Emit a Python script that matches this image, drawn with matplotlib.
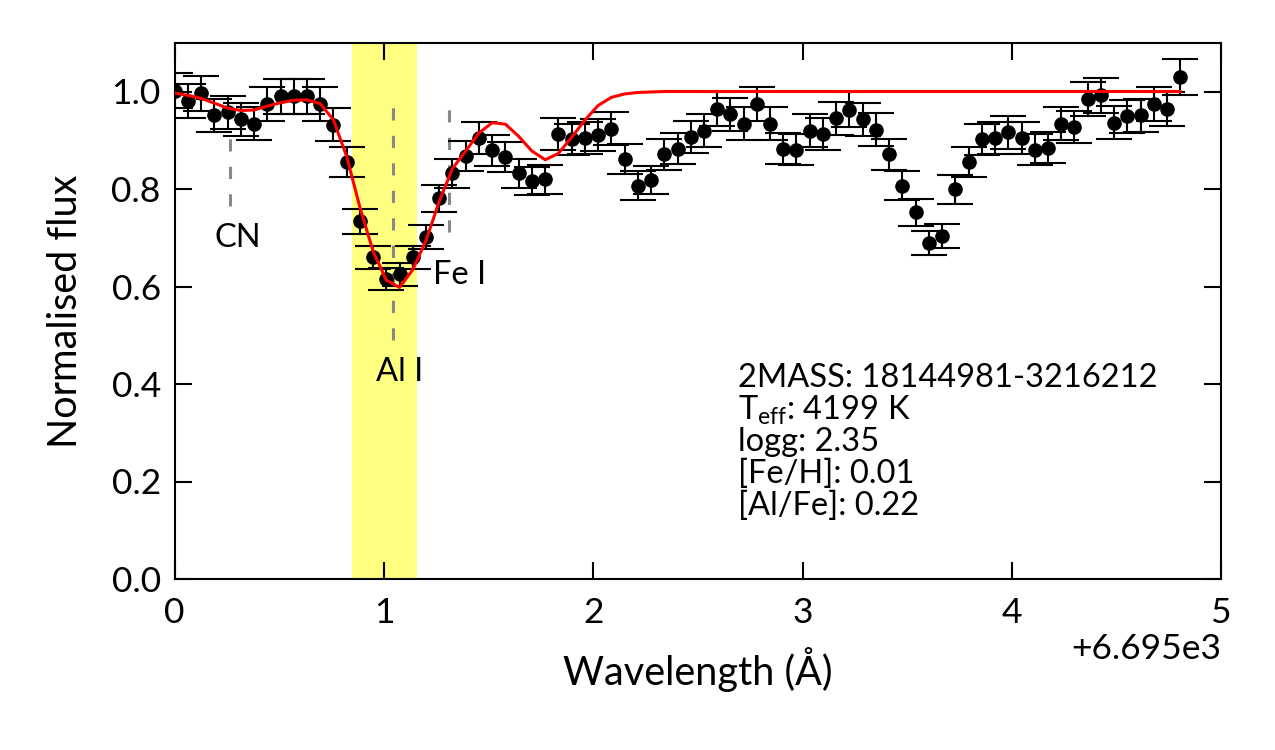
import matplotlib
matplotlib.use('Agg')
import matplotlib.pyplot as plt

plt.rcParams['font.family'] = ['Lato', 'DejaVu Sans']
plt.rcParams['mathtext.fontset'] = 'custom'
plt.rcParams['mathtext.rm'] = 'Lato'
plt.rcParams['mathtext.it'] = 'Lato'

# wavelength offset from 6695 A
wl = [0.000, 0.063, 0.126, 0.190, 0.253, 0.316, 0.379, 0.442, 0.506, 0.569,
      0.632, 0.695, 0.758, 0.822, 0.885, 0.948, 1.011, 1.074, 1.138, 1.201,
      1.264, 1.327, 1.390, 1.454, 1.517, 1.580, 1.643, 1.706, 1.770, 1.833,
      1.896, 1.959, 2.022, 2.086, 2.149, 2.212, 2.275, 2.338, 2.402, 2.465,
      2.528, 2.591, 2.654, 2.718, 2.781, 2.844, 2.907, 2.970, 3.034, 3.097,
      3.160, 3.223, 3.286, 3.350, 3.413, 3.476, 3.539, 3.602, 3.666, 3.729,
      3.792, 3.855, 3.918, 3.982, 4.045, 4.108, 4.171, 4.234, 4.298, 4.361,
      4.424, 4.487, 4.550, 4.614, 4.677, 4.740, 4.803]

flux = [1.002, 0.980, 0.996, 0.951, 0.957, 0.943, 0.934, 0.975, 0.990, 0.990,
        0.990, 0.975, 0.932, 0.855, 0.734, 0.660, 0.615, 0.625, 0.660, 0.701,
        0.781, 0.832, 0.867, 0.904, 0.879, 0.865, 0.832, 0.816, 0.820, 0.912,
        0.902, 0.904, 0.910, 0.924, 0.861, 0.807, 0.818, 0.871, 0.883, 0.906,
        0.920, 0.965, 0.953, 0.934, 0.975, 0.934, 0.883, 0.881, 0.920, 0.912,
        0.945, 0.963, 0.943, 0.922, 0.871, 0.807, 0.752, 0.689, 0.703, 0.799,
        0.855, 0.902, 0.904, 0.916, 0.904, 0.881, 0.885, 0.934, 0.928, 0.984,
        0.992, 0.936, 0.949, 0.951, 0.975, 0.965, 1.029]

err = [0.036, 0.035, 0.036, 0.034, 0.034, 0.034, 0.034, 0.035, 0.036, 0.036,
       0.036, 0.035, 0.034, 0.031, 0.026, 0.024, 0.022, 0.023, 0.024, 0.025,
       0.028, 0.030, 0.031, 0.033, 0.032, 0.031, 0.030, 0.029, 0.030, 0.033,
       0.032, 0.033, 0.033, 0.033, 0.031, 0.029, 0.029, 0.031, 0.032, 0.033,
       0.033, 0.035, 0.034, 0.034, 0.035, 0.034, 0.032, 0.032, 0.033, 0.033,
       0.034, 0.035, 0.034, 0.033, 0.031, 0.029, 0.027, 0.025, 0.025, 0.029,
       0.031, 0.032, 0.033, 0.033, 0.033, 0.032, 0.032, 0.034, 0.033, 0.035,
       0.036, 0.034, 0.034, 0.034, 0.035, 0.035, 0.037]

model = [0.997, 0.992, 0.986, 0.976, 0.966, 0.961, 0.962, 0.970, 0.977, 0.982,
         0.983, 0.975, 0.942, 0.866, 0.762, 0.672, 0.613, 0.598, 0.635, 0.695,
         0.775, 0.842, 0.878, 0.915, 0.936, 0.933, 0.908, 0.878, 0.860, 0.873,
         0.906, 0.941, 0.971, 0.988, 0.995, 0.998, 0.999, 1.000, 1.000, 1.000,
         1.000, 1.000, 1.000, 1.000, 1.000, 1.000, 1.000, 1.000, 1.000, 1.000,
         1.000, 1.000, 1.000, 1.000, 1.000, 1.000, 1.000, 1.000, 1.000, 1.000,
         1.000, 1.000, 1.000, 1.000, 1.000, 1.000, 1.000, 1.000, 1.000, 1.000,
         1.000, 1.000, 1.000, 1.000, 1.000, 1.000, 1.000]

wl0 = 6695.0
band = [0.845, 1.156]

# line markers: name, position, dash from/to, label x, label y
lines = [('CN', 0.263, 0.766, 0.904, 0.30, 0.70),
         ('Al I', 1.041, 0.49, 0.986, 1.075, 0.424),
         ('Fe I', 1.309, 0.711, 0.992, 1.36, 0.623)]

info = ['2MASS: 18144981-3216212', r'T$_{\rm eff}$: 4199 K', 'logg: 2.35',
        '[Fe/H]: 0.01', '[Al/Fe]: 0.22']

fig = plt.figure(figsize=(12.75, 7.5), dpi=100)
ax = fig.add_axes([0.137, 0.228, 0.821, 0.715])

x = [wl0 + v for v in wl]
ax.axvspan(wl0 + band[0], wl0 + band[1], color='#ffff80', lw=0, zorder=0.5)

for name, pos, y0, y1, tx, ty in lines:
    ax.plot([wl0 + pos, wl0 + pos], [y0, y1], ls=(0, (4, 5)), color='#888888', lw=2.2, zorder=1)
    ax.text(wl0 + tx, ty, name, fontsize=23.5, ha='center', va='center')

ax.errorbar(x, flux, yerr=err, fmt='o', color='black', ms=9.5, capsize=13,
            elinewidth=1.5, capthick=1.5, zorder=2)
ax.plot(x, model, color='red', lw=2.2, zorder=3)

for i, s in enumerate(info):
    ax.text(wl0 + 2.69, 0.412 - i * 0.0655, s, fontsize=23.5, ha='left', va='center')

ax.set_xlim(wl0, wl0 + 5)
ax.set_ylim(0, 1.1)
ax.set_yticks([0.0, 0.2, 0.4, 0.6, 0.8, 1.0])
ax.ticklabel_format(axis='x', useOffset=wl0, useMathText=False)
ax.tick_params(direction='in', length=12, width=1.5, top=True, right=True,
               labelsize=25.5)
ax.tick_params(axis='x', pad=13)
ax.tick_params(axis='y', pad=10)
for s in ax.spines.values():
    s.set_linewidth(1.5)
ax.xaxis.get_offset_text().set_fontsize(25.5)
ax.set_xlabel('Wavelength (Å)', fontsize=28.5, labelpad=13)
ax.set_ylabel('Normalised flux', fontsize=28.5, labelpad=20)

fig.savefig('out.png', dpi=100)
